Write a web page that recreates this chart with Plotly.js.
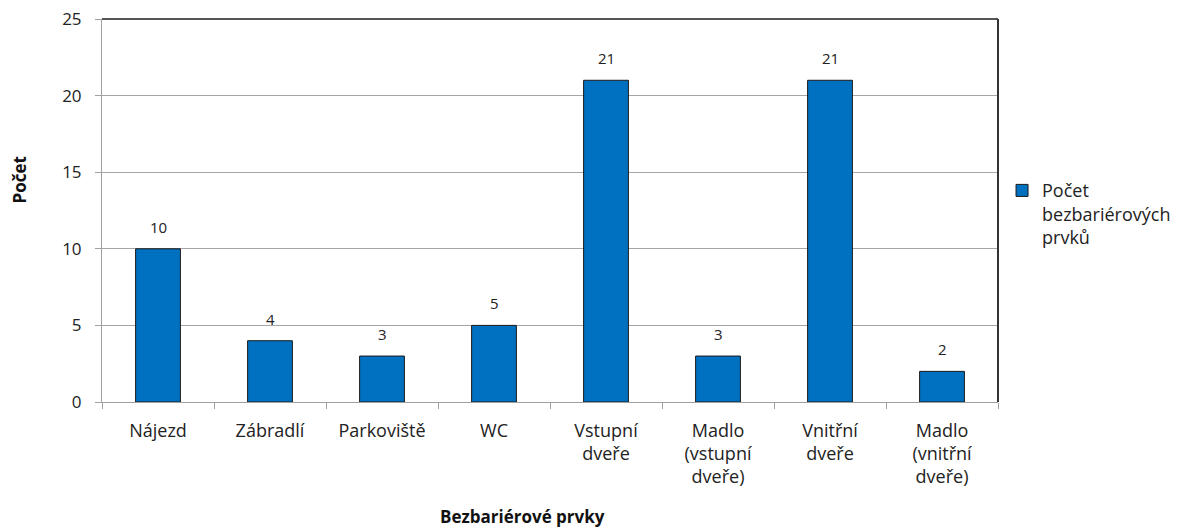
<!DOCTYPE html>
<html>
<head>
<meta charset="utf-8">
<script src="https://cdn.plot.ly/plotly-3.0.1.min.js"></script>
<style>html,body{margin:0;padding:0;background:#fff;}#chart{width:1194px;height:530px;}</style>
</head>
<body>
<div id="chart"></div>
<script>
const categories = ["Nájezd", "Zábradlí", "Parkoviště", "WC", "Vstupní<br>dveře", "Madlo<br>(vstupní<br>dveře)", "Vnitřní<br>dveře", "Madlo<br>(vnitřní<br>dveře)"];
const values = [10, 4, 3, 5, 21, 3, 21, 2];
const seriesName = "Počet<br>bezbariérových<br>prvků";
const yTitle = "Počet";
const xTitle = "Bezbariérové prvky";

const FONT = "'Open Sans', 'DejaVu Sans', sans-serif";
const TXT = "#222222";

const trace = {
  type: "bar",
  x: categories,
  y: values,
  name: seriesName,
  marker: {color: "#0070C0", line: {color: "#1a1a1a", width: 1}},
  showlegend: true,
  hoverinfo: "x+y"
};

const labels = categories.map((c, i) => ({
  x: c, y: values[i], xref: "x", yref: "y",
  text: String(values[i]), showarrow: false,
  yanchor: "bottom", yshift: 10,
  font: {family: FONT, size: 15, color: TXT}
}));

const layout = {
  width: 1194, height: 530,
  margin: {l: 102, r: 196, t: 19, b: 128, pad: 0},
  paper_bgcolor: "#ffffff",
  plot_bgcolor: "#ffffff",
  font: {family: FONT, color: TXT},
  bargap: 0.6,
  xaxis: {
    type: "category",
    tickson: "boundaries",
    ticks: "outside", ticklen: 6, tickcolor: "#a0a0a0", tickwidth: 1,
    showline: true, linecolor: "#a0a0a0", linewidth: 1,
    showgrid: false, zeroline: false,
    tickfont: {family: FONT, size: 18, color: TXT},
    ticklabelstandoff: 12,
    fixedrange: true
  },
  yaxis: {
    range: [0, 25], dtick: 5, tick0: 0,
    ticks: "outside", ticklen: 6, tickcolor: "#a0a0a0", tickwidth: 1,
    showline: true, linecolor: "#a0a0a0", linewidth: 1,
    showgrid: true, gridcolor: "#a6a6a6", gridwidth: 1,
    zeroline: false,
    tickfont: {family: FONT, size: 17, color: TXT},
    ticklabelstandoff: 10,
    fixedrange: true
  },
  showlegend: true,
  legend: {
    x: 1.0045, xanchor: "left", xref: "paper",
    y: 0.60, yanchor: "top",
    valign: "top",
    bgcolor: "rgba(0,0,0,0)",
    font: {family: FONT, size: 18, color: TXT},
    itemwidth: 30
  },
  shapes: [
    {type: "line", xref: "paper", yref: "paper", x0: 0, x1: 1, y0: 1, y1: 1, line: {color: "#555555", width: 2}},
    {type: "line", xref: "paper", yref: "paper", x0: 1, x1: 1, y0: 0, y1: 1, line: {color: "#333333", width: 2}}
  ],
  annotations: labels.concat([
    {xref: "paper", yref: "paper", x: -0.092, y: 0.58, text: "<b>" + yTitle + "</b>", textangle: -90,
     showarrow: false, xanchor: "center", yanchor: "middle", font: {family: FONT, size: 17, color: "#111"}},
    {xref: "paper", yref: "paper", x: 0.469, y: -0.298, text: "<b>" + xTitle + "</b>",
     showarrow: false, xanchor: "center", yanchor: "middle", font: {family: FONT, size: 17, color: "#111"}}
  ])
};

Plotly.newPlot("chart", [trace], layout, {displayModeBar: false, staticPlot: false});
</script>
</body>
</html>
